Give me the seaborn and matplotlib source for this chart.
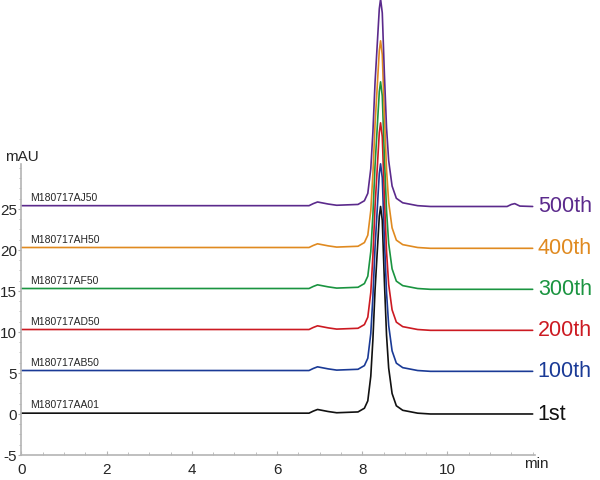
import numpy as np
import pandas as pd
import seaborn as sns
import matplotlib.pyplot as plt
from matplotlib.ticker import FixedLocator

# runs, offsets and colours
runs = ["1st", "100th", "200th", "300th", "400th", "500th"]
samples = ["M180717AA01", "M180717AB50", "M180717AD50", "M180717AF50", "M180717AH50", "M180717AJ50"]
offsets = [0.1, 5.3, 10.3, 15.3, 20.3, 25.4]
colors = ["#111111", "#1a3a96", "#cc1a22", "#1a9440", "#e08a20", "#5b2a8c"]

# chromatogram profile (min, mAU above baseline)
peak_time = [0.0, 6.75, 6.85, 6.95, 7.05, 7.2, 7.4, 7.9, 8.05, 8.13, 8.2, 8.25, 8.3, 8.35,
             8.4, 8.43, 8.47, 8.52, 8.57, 8.62, 8.7, 8.8, 8.95, 9.3, 9.6]
peak_signal = [0.0, 0.0, 0.25, 0.45, 0.35, 0.2, 0.05, 0.15, 0.6, 1.5, 4.5, 9.0, 15.0, 19.5,
               24.0, 25.2, 23.5, 16.0, 9.5, 5.5, 2.4, 0.9, 0.35, 0.0, -0.1]

# tail after the peak (500th run has a small bump near 11.5 min)
tail_time = [12.0]
tail_signal = [-0.1]
tail_time_500 = [11.4, 11.5, 11.58, 11.7, 12.0]
tail_signal_500 = [-0.1, 0.15, 0.25, -0.05, -0.1]

rows = []
for i, run in enumerate(runs):
    if run == "500th":
        t = peak_time + tail_time_500
        s = peak_signal + tail_signal_500
    else:
        t = peak_time + tail_time
        s = peak_signal + tail_signal
    for tt, ss in zip(t, s):
        rows.append({"run": run, "time": tt, "signal": ss + offsets[i]})
df = pd.DataFrame(rows)

sns.set_style("ticks")
plt.rcParams['font.family'] = ['Liberation Sans', 'DejaVu Sans']
plt.rcParams['axes.unicode_minus'] = False

fig = plt.figure(figsize=(6, 4.81), dpi=100)
ax = fig.add_axes([0.0358, 0.052, 0.8555, 0.948])

sns.lineplot(data=df, x="time", y="signal", hue="run", hue_order=runs,
             palette=colors, estimator=None, sort=False, legend=False,
             linewidth=1.2, ax=ax)
for line in ax.lines:
    line.set_clip_on(False)

ax.set_xlim(0, 12.05)
ax.set_ylim(-5, 50.6)
ax.set_xlabel("")
ax.set_ylabel("")

# axes styling
sns.despine(ax=ax)
for side in ["left", "bottom"]:
    ax.spines[side].set_color("#b4b4b4")
    ax.spines[side].set_linewidth(1.2)
ax.spines["left"].set_bounds(-5, 30.5)
ax.spines["bottom"].set_bounds(0, 12.05)

ax.xaxis.set_major_locator(FixedLocator(np.arange(0, 11, 2)))
ax.xaxis.set_minor_locator(FixedLocator(np.arange(0, 12.01, 0.5)))
ax.yaxis.set_major_locator(FixedLocator(np.arange(-5, 26, 5)))
ax.yaxis.set_minor_locator(FixedLocator(np.arange(-5, 30.01, 1.25)))
ax.tick_params(axis="x", which="both", direction="in", color="#b4b4b4", labelsize=11, pad=5)
ax.tick_params(axis="y", which="both", direction="out", color="#b4b4b4", labelsize=11, pad=0.8)
ax.tick_params(axis="x", which="major", length=3)
ax.tick_params(axis="x", which="minor", length=2)
ax.tick_params(axis="y", which="major", length=2.2)
ax.tick_params(axis="y", which="minor", length=1.6)

# labels
for i, run in enumerate(runs):
    ax.text(0.2, offsets[i] + 0.45, samples[i], fontsize=7.5, ha="left", va="bottom")
    ax.text(12.12, offsets[i], run, fontsize=15.5, color=colors[i],
            ha="left", va="center", clip_on=False)

ax.text(0, 31.5, "mAU", fontsize=11, ha="center", va="center")
ax.text(12.08, -6.0, "min", fontsize=11, ha="center", va="center", clip_on=False)

fig.savefig("out.png", dpi=100)
